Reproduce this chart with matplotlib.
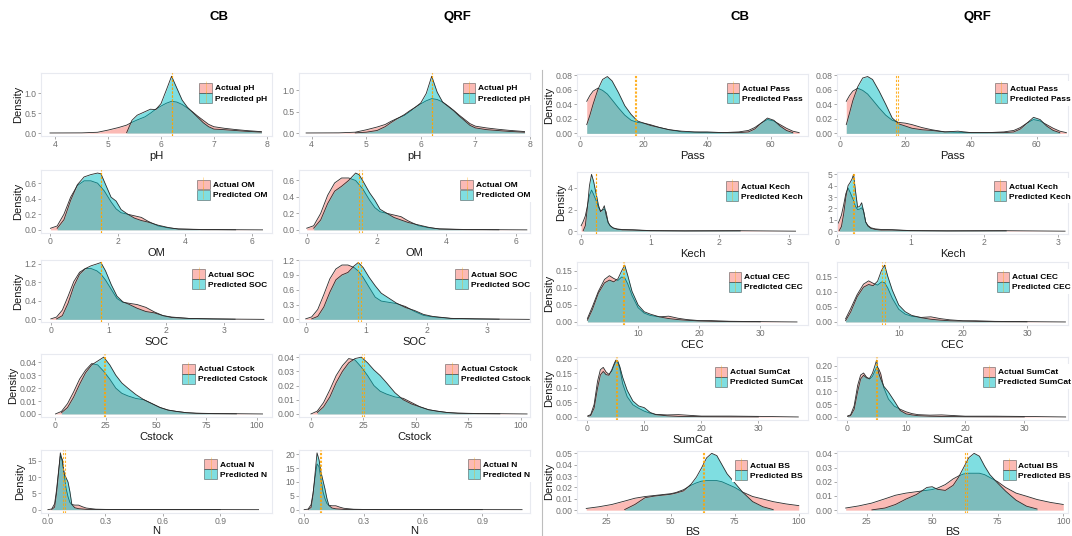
import numpy as np
import matplotlib
matplotlib.use("Agg")
import matplotlib.pyplot as plt
from matplotlib.patches import Patch
from matplotlib.lines import Line2D
from matplotlib.legend_handler import HandlerTuple

plt.rcParams['font.family'] = ['Liberation Sans', 'DejaVu Sans']

# ---- densities (actual is shared by CB and QRF) ----
ph_x = [3.9, 4.5, 4.8, 5.0, 5.2, 5.35, 5.45, 5.55, 5.7, 5.8, 5.9, 6.0, 6.1, 6.2, 6.3,
        6.4, 6.5, 6.6, 6.7, 6.8, 6.9, 7.0, 7.2, 7.4, 7.6, 7.9]
ph_act = [0.002, 0.005, 0.02, 0.075, 0.14, 0.2, 0.27, 0.33, 0.41, 0.5, 0.6, 0.68, 0.75, 0.8,
          0.78, 0.72, 0.63, 0.53, 0.42, 0.32, 0.22, 0.16, 0.12, 0.09, 0.065, 0.035]
ph_cb = [0.0, 0.0, 0.0, 0.0, 0.0, 0.01, 0.32, 0.45, 0.54, 0.6, 0.59, 0.74, 1.08, 1.43, 1.13,
         0.83, 0.65, 0.52, 0.39, 0.26, 0.16, 0.1, 0.085, 0.065, 0.045, 0.025]
ph_qrf = [0.0, 0.0, 0.005, 0.02, 0.06, 0.15, 0.24, 0.32, 0.43, 0.52, 0.6, 0.7, 0.92, 1.32,
          0.95, 0.72, 0.62, 0.52, 0.4, 0.29, 0.18, 0.12, 0.08, 0.06, 0.04, 0.02]

om_x = [0.0, 0.2, 0.4, 0.6, 0.8, 1.0, 1.2, 1.4, 1.5, 1.6, 1.8, 1.95, 2.1, 2.3, 2.5, 2.7,
        2.9, 3.2, 3.5, 3.8, 4.5, 5.5, 6.3]
om_act = [0.02, 0.05, 0.2, 0.42, 0.57, 0.63, 0.63, 0.6, 0.55, 0.5, 0.36, 0.27, 0.22, 0.2,
          0.18, 0.16, 0.11, 0.05, 0.025, 0.012, 0.005, 0.002, 0.0]
om_cb = [0.0, 0.02, 0.13, 0.38, 0.58, 0.68, 0.71, 0.73, 0.72, 0.62, 0.42, 0.37, 0.26, 0.2,
         0.15, 0.12, 0.1, 0.06, 0.03, 0.01, 0.003, 0.001, 0.0]
om_qrf = [0.0, 0.02, 0.12, 0.32, 0.47, 0.53, 0.6, 0.69, 0.67, 0.6, 0.45, 0.36, 0.25, 0.2,
          0.15, 0.12, 0.09, 0.06, 0.03, 0.01, 0.003, 0.001, 0.0]

soc_x = [0.0, 0.1, 0.2, 0.3, 0.4, 0.5, 0.6, 0.7, 0.8, 0.87, 0.95, 1.05, 1.15, 1.25, 1.35,
         1.5, 1.65, 1.8, 1.95, 2.1, 2.4, 2.8, 3.2, 3.7]
soc_act = [0.01, 0.05, 0.2, 0.5, 0.82, 1.02, 1.1, 1.1, 1.05, 0.98, 0.85, 0.65, 0.45, 0.37,
           0.35, 0.32, 0.26, 0.16, 0.08, 0.05, 0.02, 0.01, 0.005, 0.0]
soc_cb = [0.0, 0.01, 0.08, 0.35, 0.72, 0.98, 1.1, 1.16, 1.2, 1.23, 1.05, 0.75, 0.5, 0.38,
          0.33, 0.24, 0.17, 0.14, 0.08, 0.04, 0.02, 0.01, 0.003, 0.0]
soc_qrf = [0.0, 0.01, 0.06, 0.25, 0.55, 0.8, 0.9, 0.95, 1.08, 1.15, 1.05, 0.85, 0.68, 0.53,
           0.45, 0.33, 0.24, 0.18, 0.1, 0.06, 0.02, 0.01, 0.003, 0.0]

cst_x = [0, 3, 6, 9, 12, 15, 18, 21, 24, 27, 30, 33, 36, 40, 44, 48, 52, 56, 60, 65, 70,
         80, 90, 103]
cst_act = [0.0, 0.002, 0.008, 0.017, 0.027, 0.034, 0.039, 0.038, 0.033, 0.027, 0.02, 0.016,
           0.014, 0.012, 0.011, 0.008, 0.005, 0.003, 0.002, 0.001, 0.0006, 0.0003, 0.0002, 0.0]
cst_cb = [0.0, 0.001, 0.005, 0.013, 0.023, 0.032, 0.038, 0.041, 0.044, 0.038, 0.03, 0.024,
          0.02, 0.015, 0.011, 0.008, 0.005, 0.003, 0.002, 0.001, 0.0005, 0.0002, 0.0001, 0.0]
cst_qrf = [0.0, 0.001, 0.005, 0.012, 0.022, 0.03, 0.036, 0.039, 0.04, 0.036, 0.031, 0.027,
           0.022, 0.015, 0.01, 0.007, 0.005, 0.003, 0.002, 0.001, 0.0005, 0.0002, 0.0001, 0.0]

n_x = [0.0, 0.02, 0.035, 0.045, 0.055, 0.065, 0.075, 0.085, 0.095, 0.105, 0.115, 0.125,
       0.14, 0.16, 0.18, 0.2, 0.25, 0.3, 0.4, 0.6, 0.9, 1.1]
n_act = [0.0, 0.2, 1.8, 6.0, 11.5, 16.5, 15.5, 11.0, 6.5, 4.0, 2.2, 1.6, 1.4, 1.4, 0.9, 0.5,
         0.15, 0.08, 0.05, 0.02, 0.02, 0.0]
n_cb = [0.0, 0.05, 0.8, 5.0, 11.0, 17.5, 15.0, 11.0, 9.8, 8.5, 5.5, 1.6, 0.6, 0.3, 0.2, 0.1,
        0.05, 0.03, 0.02, 0.01, 0.01, 0.0]
n_qrf = [0.0, 0.05, 0.8, 5.5, 13.0, 20.5, 18.0, 13.5, 10.5, 7.5, 4.0, 1.5, 0.6, 0.3, 0.2,
         0.1, 0.05, 0.03, 0.02, 0.01, 0.01, 0.0]

pass_x = [2, 3, 4, 5.5, 7, 8.5, 10, 12, 14, 16, 18, 20, 22, 25, 28, 32, 36, 40, 45, 50, 53,
          55, 57, 59, 61, 63, 65, 67, 69]
pass_act = [0.044, 0.052, 0.058, 0.062, 0.059, 0.054, 0.046, 0.035, 0.025, 0.018, 0.015,
            0.014, 0.012, 0.008, 0.005, 0.002, 0.0015, 0.001, 0.001, 0.002, 0.004, 0.008,
            0.014, 0.019, 0.017, 0.012, 0.007, 0.003, 0.001]
pass_cb = [0.012, 0.025, 0.04, 0.06, 0.074, 0.078, 0.072, 0.056, 0.038, 0.026, 0.017, 0.014,
           0.011, 0.008, 0.005, 0.003, 0.002, 0.002, 0.001, 0.001, 0.002, 0.006, 0.014,
           0.021, 0.018, 0.01, 0.004, 0.001, 0.0]
pass_qrf = [0.012, 0.028, 0.045, 0.064, 0.076, 0.078, 0.074, 0.058, 0.04, 0.021, 0.013,
            0.01, 0.007, 0.005, 0.004, 0.002, 0.003, 0.001, 0.001, 0.001, 0.002, 0.006,
            0.014, 0.022, 0.019, 0.01, 0.004, 0.001, 0.0]

kech_x = [0.0, 0.03, 0.06, 0.09, 0.12, 0.15, 0.18, 0.205, 0.225, 0.25, 0.28, 0.31, 0.335,
          0.36, 0.39, 0.42, 0.46, 0.52, 0.6, 0.75, 1.0, 1.5, 2.3, 3.1]
kech_act = [0.5, 0.9, 1.4, 2.3, 3.3, 3.8, 3.4, 3.0, 2.7, 2.2, 1.9, 1.95, 2.05, 1.8, 0.8, 0.5,
            0.3, 0.2, 0.15, 0.13, 0.05, 0.03, 0.04, 0.0]
kech_cb = [0.0, 0.05, 0.5, 2.2, 4.2, 5.25, 4.6, 3.8, 3.2, 2.4, 1.8, 2.0, 2.35, 1.5, 0.8, 0.5,
           0.3, 0.18, 0.12, 0.1, 0.04, 0.02, 0.03, 0.0]
kech_qrf = [0.0, 0.05, 0.4, 1.5, 3.0, 4.0, 4.3, 4.6, 5.0, 3.6, 2.1, 2.2, 2.5, 1.8, 0.8, 0.45,
            0.25, 0.15, 0.1, 0.1, 0.04, 0.02, 0.03, 0.0]

cec_x = [1.7, 2.5, 3.5, 4.5, 5.3, 6.0, 6.7, 7.3, 7.8, 8.3, 9.0, 10, 11, 12, 13.5, 15, 16.5,
         18, 20, 22, 25, 30, 36]
cec_act = [0.01, 0.044, 0.09, 0.125, 0.136, 0.128, 0.122, 0.132, 0.13, 0.112, 0.078, 0.042,
           0.026, 0.019, 0.015, 0.017, 0.011, 0.007, 0.004, 0.004, 0.002, 0.001, 0.0]
cec_cb = [0.005, 0.036, 0.085, 0.115, 0.123, 0.118, 0.127, 0.15, 0.167, 0.137, 0.09, 0.05,
          0.03, 0.023, 0.015, 0.01, 0.007, 0.005, 0.003, 0.002, 0.001, 0.0005, 0.0]
cec_qrf = [0.004, 0.033, 0.083, 0.115, 0.124, 0.12, 0.135, 0.17, 0.188, 0.15, 0.105, 0.056,
           0.034, 0.022, 0.014, 0.009, 0.006, 0.004, 0.003, 0.002, 0.001, 0.0005, 0.0]

sum_x = [0.1, 0.6, 1.2, 1.8, 2.3, 2.8, 3.3, 3.8, 4.3, 4.7, 5.0, 5.3, 5.7, 6.2, 7.0, 8.0, 9.0,
         10, 11, 12, 14, 16, 20, 25, 30, 37]
sum_act = [0.004, 0.008, 0.043, 0.123, 0.163, 0.171, 0.155, 0.147, 0.158, 0.178, 0.192, 0.19,
           0.168, 0.115, 0.07, 0.042, 0.03, 0.02, 0.013, 0.009, 0.007, 0.008, 0.003, 0.003,
           0.002, 0.0]
sum_cb = [0.002, 0.005, 0.031, 0.1, 0.145, 0.157, 0.146, 0.144, 0.163, 0.183, 0.196, 0.195,
          0.174, 0.137, 0.092, 0.055, 0.038, 0.032, 0.016, 0.008, 0.004, 0.002, 0.001,
          0.0005, 0.0003, 0.0]
sum_qrf = [0.002, 0.005, 0.03, 0.1, 0.148, 0.162, 0.152, 0.15, 0.17, 0.198, 0.221, 0.175,
           0.148, 0.12, 0.097, 0.062, 0.025, 0.012, 0.008, 0.005, 0.003, 0.002, 0.001,
           0.0005, 0.0003, 0.0]

bs_x = [17, 22, 27, 32, 36, 40, 44, 48, 50, 52, 55, 58, 60, 62, 64, 66, 68, 70, 72, 75, 78,
        82, 86, 90, 95, 100]
bs_act = [0.0015, 0.003, 0.005, 0.008, 0.0105, 0.012, 0.013, 0.014, 0.0145, 0.0155, 0.018,
          0.022, 0.024, 0.0255, 0.026, 0.026, 0.026, 0.025, 0.023, 0.02, 0.016, 0.012,
          0.0098, 0.0075, 0.0055, 0.004]
bs_cb = [0.0, 0.0, 0.0, 0.0005, 0.005, 0.011, 0.0125, 0.0135, 0.014, 0.015, 0.017, 0.023,
         0.029, 0.037, 0.046, 0.05, 0.048, 0.04, 0.032, 0.024, 0.016, 0.0075, 0.003, 0.0005,
         0.0, 0.0]
bs_qrf = [0.0, 0.0, 0.0002, 0.0015, 0.004, 0.0078, 0.011, 0.016, 0.0165, 0.0147, 0.0139,
          0.0175, 0.023, 0.03, 0.037, 0.04, 0.038, 0.031, 0.025, 0.019, 0.0134, 0.007,
          0.0028, 0.0008, 0.0, 0.0]

# means (dashed lines): actual, CB prediction, QRF prediction
mean_act = {'pH': 6.2, 'OM': 1.5, 'SOC': 0.87, 'Cstock': 24.3, 'N': 0.08,
            'Pass': 17.1, 'Kech': 0.215, 'CEC': 7.45, 'SumCat': 5.05, 'BS': 62.5}
mean_cb = {'pH': 6.2, 'OM': 1.5, 'SOC': 0.87, 'Cstock': 24.6, 'N': 0.088,
           'Pass': 17.4, 'Kech': 0.22, 'CEC': 7.65, 'SumCat': 5.2, 'BS': 63.1}
mean_qrf = {'pH': 6.21, 'OM': 1.58, 'SOC': 0.92, 'Cstock': 25.4, 'N': 0.084,
            'Pass': 17.8, 'Kech': 0.225, 'CEC': 7.8, 'SumCat': 4.9, 'BS': 63.3}

headers = ['CB', 'QRF', 'CB', 'QRF']

# ---- layout (pixels) ----
W, H = 1072, 536
COL_LEFT = [41, 299, 577, 837]
COL_W = 231
ROWS_L = [73.4, 170.2, 259.7, 354.3, 450.0]
ROWS_R = [73.7, 171.5, 262.3, 357.3, 450.5]
ROW_H = 62.5

PINK = '#F8766D'
CYAN = '#00BFC4'
EDGE = '#2b2b2b'
ORANGE = '#FFA500'

fig = plt.figure(figsize=(W / 100, H / 100), dpi=100)


def panel(col, row, name, x, act, pred, m_a, m_p, xticks, xdec, yticks, ydec, xlim):
    tops = ROWS_L if col < 2 else ROWS_R
    top = tops[row]
    ax = fig.add_axes([COL_LEFT[col] / W, 1 - (top + ROW_H) / H, COL_W / W, ROW_H / H])
    x = np.asarray(x, float)
    act = np.asarray(act, float)
    pred = np.asarray(pred, float)

    ax.fill_between(x, act, color=PINK, alpha=0.5, lw=0, zorder=1)
    ax.plot(x, act, color=EDGE, lw=0.6, zorder=2)
    nz = np.nonzero(pred)[0]
    s = slice(nz[0], nz[-1] + 1)
    ax.fill_between(x[s], pred[s], color=CYAN, alpha=0.5, lw=0, zorder=3)
    ax.plot(x[s], pred[s], color=EDGE, lw=0.6, zorder=4)
    for m in (m_a, m_p):
        ax.axvline(m, color=ORANGE, lw=0.8, ls=(0, (2, 1.5)), alpha=0.85, zorder=5)

    ymax = max(act.max(), pred.max())
    ax.set_ylim(-0.05 * ymax, 1.05 * ymax)
    ax.set_xlim(*xlim)
    ax.set_xticks(xticks)
    ax.set_xticklabels([f'{t:.{xdec}f}' for t in xticks])
    ax.set_yticks(yticks)
    ax.set_yticklabels([f'{t:.{ydec}f}' for t in yticks])
    ax.tick_params(length=2, width=0.5, color='#888888', labelsize=6.2,
                   labelcolor='#707070', pad=1.0)
    for sp in ax.spines.values():
        sp.set_color('#e8eaf0')
        sp.set_linewidth(0.8)
    ax.set_xlabel(name, fontsize=8, color='#1a1a1a', labelpad=0.3 if row == 4 else 1.5)
    if col in (0, 2):
        ax.set_ylabel('Density', fontsize=8, color='#1a1a1a', labelpad=1.5)

    mk = dict(color=ORANGE, marker='|', ls='none', markersize=8.5, mew=0.6, alpha=0.4)
    handles = [(Patch(facecolor=PINK, alpha=0.5, edgecolor=EDGE, lw=0.6), Line2D([], [], **mk)),
               (Patch(facecolor=CYAN, alpha=0.5, edgecolor=EDGE, lw=0.6), Line2D([], [], **mk))]
    ax_x = {0: 1.0, 1: 1.022, 2: 1.0, 3: 1.035}[col]
    leg = ax.legend(handles, ['Actual ' + name, 'Predicted ' + name],
                    handler_map={tuple: HandlerTuple(ndivide=1, pad=0)},
                    loc='upper right', bbox_to_anchor=(ax_x, 0.93), frameon=True,
                    facecolor='white', edgecolor='none', framealpha=1, fancybox=False,
                    prop={'size': 6, 'weight': 'bold'}, numpoints=1,
                    handlelength=1.5, handleheight=1.45, handletextpad=0.35,
                    labelspacing=0.02, borderpad=0.3, borderaxespad=0.3)
    leg.set_zorder(10)
    return ax


left_vars = [
    ('pH', ph_x, ph_act, ph_cb, ph_qrf, [4, 5, 6, 7, 8], 0,
     [0.0, 0.5, 1.0], 1, [0.0, 0.5, 1.0], 1, (3.73, 8.1), (3.77, 7.97)),
    ('OM', om_x, om_act, om_cb, om_qrf, [0, 2, 4, 6], 0,
     [0.0, 0.2, 0.4, 0.6], 1, [0.0, 0.2, 0.4, 0.6], 1, (-0.28, 6.58), (-0.22, 6.39)),
    ('SOC', soc_x, soc_act, soc_cb, soc_qrf, [0, 1, 2, 3], 0,
     [0.0, 0.4, 0.8, 1.2], 1, [0.0, 0.3, 0.6, 0.9, 1.2], 1, (-0.17, 3.84), (-0.11, 3.71)),
    ('Cstock', cst_x, cst_act, cst_cb, cst_qrf, [0, 25, 50, 75, 100], 0,
     [0.0, 0.01, 0.02, 0.03, 0.04], 2, [0.0, 0.01, 0.02, 0.03, 0.04], 2,
     (-7.2, 107.7), (-5.7, 104.4)),
    ('N', n_x, n_act, n_cb, n_qrf, [0.0, 0.3, 0.6, 0.9], 1,
     [0, 5, 10, 15], 0, [0, 5, 10, 15, 20], 0, (-0.036, 1.17), (-0.026, 1.14)),
]
right_vars = [
    ('Pass', pass_x, pass_act, pass_cb, pass_qrf, [0, 20, 40, 60], 0,
     [0.0, 0.02, 0.04, 0.06, 0.08], 2, [0.0, 0.02, 0.04, 0.06, 0.08], 2,
     (-1.07, 71.8), (-0.82, 69.5)),
    ('Kech', kech_x, kech_act, kech_cb, kech_qrf, [0, 1, 2, 3], 0,
     [0, 2, 4], 0, [0, 1, 2, 3, 4, 5], 0, (-0.06, 3.28), (0.0, 3.14)),
    ('CEC', cec_x, cec_act, cec_cb, cec_qrf, [10, 20, 30], 0,
     [0.0, 0.05, 0.10, 0.15], 2, [0.0, 0.05, 0.10, 0.15], 2, (0.0, 37.8), (0.37, 36.4)),
    ('SumCat', sum_x, sum_act, sum_cb, sum_qrf, [0, 10, 20, 30], 0,
     [0.0, 0.05, 0.10, 0.15, 0.20], 2, [0.0, 0.05, 0.10, 0.15, 0.20], 2,
     (-1.8, 38.7), (-1.7, 37.4)),
    ('BS', bs_x, bs_act, bs_cb, bs_qrf, [25, 50, 75, 100], 0,
     [0.0, 0.01, 0.02, 0.03, 0.04, 0.05], 2, [0.0, 0.01, 0.02, 0.03, 0.04], 2,
     (13.4, 103.6), (13.7, 101.8)),
]

for block, rows in ((0, left_vars), (2, right_vars)):
    for r, (name, x, a, cb, qrf, xt, xd, yt_cb, yd_cb, yt_q, yd_q, xl_cb, xl_q) in enumerate(rows):
        panel(block, r, name, x, a, cb, mean_act[name], mean_cb[name], xt, xd, yt_cb, yd_cb, xl_cb)
        panel(block + 1, r, name, x, a, qrf, mean_act[name], mean_qrf[name], xt, xd, yt_q, yd_q, xl_q)

# column headers
for hx, txt in zip([219, 457, 740, 977], headers):
    fig.text(hx / W, 1 - 17 / H, txt, ha='center', va='center', fontsize=9.5,
             fontweight='bold', color='black')

# separator between the two blocks
fig.add_artist(Line2D([542 / W, 542 / W], [0, 1 - 70 / H], color='#bdbdbd', lw=0.8))

fig.savefig('out.png', dpi=100)
